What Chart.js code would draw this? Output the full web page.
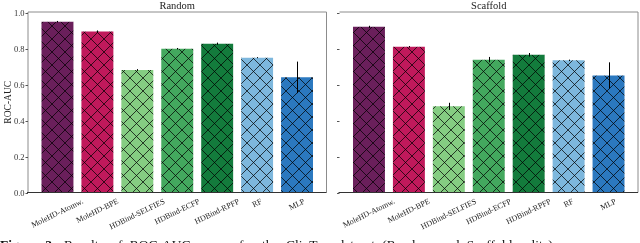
<!DOCTYPE html>
<html>
<head>
<meta charset="utf-8">
<script src="https://cdn.jsdelivr.net/npm/chart.js@4.4.1/dist/chart.umd.min.js"></script>
<style>
  html, body { margin: 0; padding: 0; background: #fff; }
  body { width: 640px; height: 243px; overflow: hidden; position: relative; }
  #left { position: absolute; left: 0; top: 0; }
  #right { position: absolute; left: 334px; top: 0; }
  #caption {
    position: absolute; left: 0; top: 238px; white-space: nowrap;
    font: 13.5px/13.5px "Liberation Serif", serif; color: #111; word-spacing: 4px;
  }
</style>
</head>
<body>
<canvas id="left" width="334" height="243"></canvas>
<canvas id="right" width="306" height="243"></canvas>
<div id="caption"><b>Figure 3:</b> Results of ROC-AUC scores for the ClinTox dataset (Random and Scaffold splits).</div>
<script>
// données
const models = ["MoleHD-Atomw.", "MoleHD-BPE", "HDBind-SELFIES", "HDBind-ECFP", "HDBind-RPFP", "RF", "MLP"];
const randomAuc = [0.954, 0.899, 0.684, 0.803, 0.831, 0.753, 0.643];
const randomErr = [0.004, 0.006, 0.005, 0.004, 0.006, 0.003, 0.088];
const scaffoldAuc = [0.925, 0.814, 0.481, 0.742, 0.769, 0.738, 0.654];
const scaffoldErr = [0.006, 0.004, 0.020, 0.015, 0.010, 0.004, 0.073];
const yTicks = [0.0, 0.2, 0.4, 0.6, 0.8, 1.0];

const barColors = ["#6a1f5b", "#c0195b", "#85cd82", "#43a85e", "#137b3c", "#7db7dd", "#2b78bf"];
const SERIF = '"Liberation Serif", serif';
const GAP = 9.5; // espace entre les axes et la première/dernière catégorie

// motif hachuré "x"
function hatch(color) {
    const s = 13;
    const c = document.createElement("canvas");
    c.width = s; c.height = s;
    const g = c.getContext("2d");
    g.fillStyle = color;
    g.fillRect(0, 0, s, s);
    g.strokeStyle = "rgba(0,0,0,0.8)";
    g.lineWidth = 0.9;
    g.beginPath();
    g.moveTo(-1, -1); g.lineTo(s + 1, s + 1);
    g.moveTo(s + 1, -1); g.lineTo(-1, s + 1);
    g.stroke();
    return g.createPattern(c, "repeat");
}

// cadre, graduations, libellés, barres d'erreur
const decor = {
    id: "decor",
    afterDatasetsDraw(chart, args, opts) {
        const ctx = chart.ctx;
        const y = chart.scales.y;
        const meta = chart.getDatasetMeta(0);
        ctx.save();
        ctx.strokeStyle = "#000";
        ctx.lineWidth = 1;
        meta.data.forEach((bar, i) => {
            const v = opts.values[i], e = opts.errors[i];
            const x = Math.round(bar.x) + 0.5;
            ctx.beginPath();
            ctx.moveTo(x, y.getPixelForValue(v + e));
            ctx.lineTo(x, y.getPixelForValue(v - e));
            ctx.stroke();
        });
        ctx.restore();
    },
    afterDraw(chart, args, opts) {
        const ctx = chart.ctx;
        const a = chart.chartArea;
        const x = chart.scales.x, y = chart.scales.y;
        const L = a.left - GAP, R = a.right + GAP, T = a.top, B = a.bottom;
        ctx.save();
        ctx.lineWidth = 1;
        // cadre
        ctx.strokeStyle = "#8c8c8c";
        ctx.beginPath();
        ctx.moveTo(L, T); ctx.lineTo(R, T);
        if (opts.leftSpine) { ctx.moveTo(L, T); ctx.lineTo(L, B); }
        ctx.moveTo(R, T); ctx.lineTo(R, B);
        ctx.stroke();
        ctx.strokeStyle = "#333";
        ctx.beginPath();
        ctx.moveTo(L - 1, B); ctx.lineTo(R, B);
        ctx.stroke();
        // graduations y
        ctx.fillStyle = "#333";
        ctx.font = "8.5px " + SERIF;
        ctx.textAlign = "right";
        ctx.textBaseline = "middle";
        yTicks.forEach(t => {
            const py = Math.round(y.getPixelForValue(t)) + 0.5;
            ctx.strokeStyle = "#555";
            ctx.beginPath();
            ctx.moveTo(L - 2.5, py); ctx.lineTo(L, py);
            ctx.stroke();
            if (opts.yLabels) ctx.fillText(t.toFixed(1), L - 3.5, py);
        });
        if (opts.yLabels) {
            ctx.save();
            ctx.translate(8, (T + B) / 2);
            ctx.rotate(-Math.PI / 2);
            ctx.textAlign = "center";
            ctx.font = "9.5px " + SERIF;
            ctx.fillStyle = "#222";
            ctx.fillText("ROC-AUC", 0, 0);
            ctx.restore();
        }
        // titre
        ctx.fillStyle = "#222";
        ctx.font = "10.5px " + SERIF;
        ctx.textAlign = "center";
        ctx.textBaseline = "alphabetic";
        ctx.fillText(opts.title, (L + R) / 2, 8.5);
        // libellés x tournés, centrés sur la graduation
        const rot = 26 * Math.PI / 180;
        ctx.font = "8px " + SERIF;
        ctx.textBaseline = "middle";
        const h = 8;
        x.getLabels().forEach((lab, i) => {
            const px = x.getPixelForValue(i);
            const w = ctx.measureText(lab).width;
            const bh = w * Math.sin(rot) + h * Math.cos(rot);
            ctx.save();
            ctx.translate(px, B + 5 + bh / 2);
            ctx.rotate(-rot);
            ctx.fillText(lab, 0, 0);
            ctx.restore();
        });
        ctx.restore();
    }
};

function makeChart(id, values, errors, title, pad, leftSpine, yLabels) {
    return new Chart(document.getElementById(id), {
        type: "bar",
        data: {
            labels: models,
            datasets: [{
                data: values,
                backgroundColor: barColors.map(hatch),
                borderWidth: 0,
                barPercentage: 0.8,
                categoryPercentage: 1.0
            }]
        },
        options: {
            responsive: false,
            animation: false,
            layout: { padding: pad },
            scales: {
                x: { type: "category", offset: true, display: false },
                y: { min: 0, max: 1.008, display: false }
            },
            plugins: {
                legend: { display: false },
                tooltip: { enabled: false },
                decor: { values, errors, title, leftSpine, yLabels }
            }
        },
        plugins: [decor]
    });
}

makeChart("left", randomAuc, randomErr, "Random",
    { left: 37.5, right: 17, top: 12, bottom: 50.5 }, true, true);
makeChart("right", scaffoldAuc, scaffoldErr, "Scaffold",
    { left: 15, right: 11.5, top: 12, bottom: 50.5 }, false, false);
</script>
</body>
</html>
